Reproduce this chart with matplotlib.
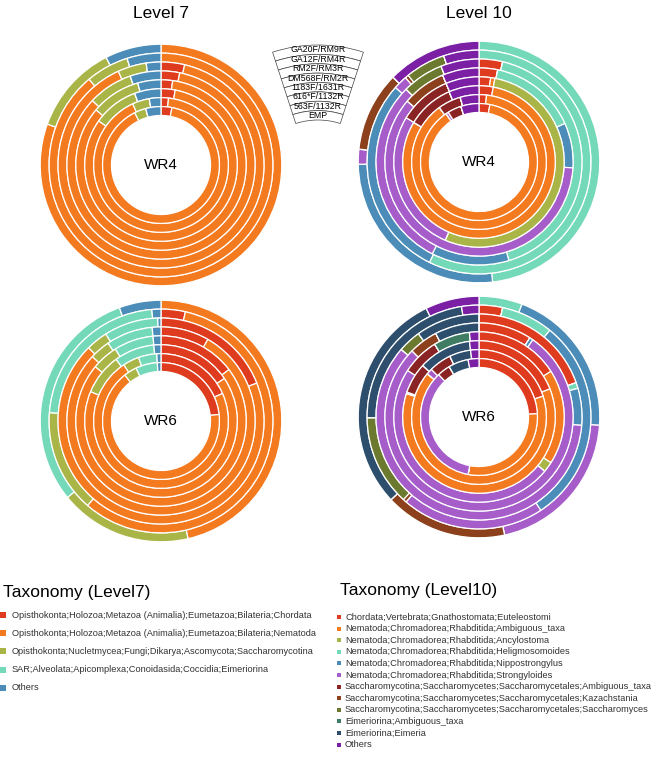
import matplotlib.pyplot as plt
from matplotlib.patches import Wedge, Rectangle

plt.rcParams['font.family'] = ['Liberation Sans', 'DejaVu Sans']

# primer pairs, outermost ring first
primers = ["GA20F/RM9R", "GA12F/RM4R", "RM2F/RM3R", "DM568F/RM2R",
           "1183F/1631R", "616*F/1132R", "563F/1132R", "EMP"]

taxa_l7 = [
    "Opisthokonta;Holozoa;Metazoa (Animalia);Eumetazoa;Bilateria;Chordata",
    "Opisthokonta;Holozoa;Metazoa (Animalia);Eumetazoa;Bilateria;Nematoda",
    "Opisthokonta;Nucletmycea;Fungi;Dikarya;Ascomycota;Saccharomycotina",
    "SAR;Alveolata;Apicomplexa;Conoidasida;Coccidia;Eimeriorina",
    "Others",
]
taxa_l10 = [
    "Chordata;Vertebrata;Gnathostomata;Euteleostomi",
    "Nematoda;Chromadorea;Rhabditida;Ambiguous_taxa",
    "Nematoda;Chromadorea;Rhabditida;Ancylostoma",
    "Nematoda;Chromadorea;Rhabditida;Heligmosomoides",
    "Nematoda;Chromadorea;Rhabditida;Nippostrongylus",
    "Nematoda;Chromadorea;Rhabditida;Strongyloides",
    "Saccharomycotina;Saccharomycetes;Saccharomycetales;Ambiguous_taxa",
    "Saccharomycotina;Saccharomycetes;Saccharomycetales;Kazachstania",
    "Saccharomycotina;Saccharomycetes;Saccharomycetales;Saccharomyces",
    "Eimeriorina;Ambiguous_taxa",
    "Eimeriorina;Eimeria",
    "Others",
]

# relative abundance per ring (rows = primers, cols = taxa)
wr4_l7 = [
    [0.000, 0.805, 0.120, 0.000, 0.075],
    [0.000, 0.889, 0.062, 0.000, 0.049],
    [0.037, 0.895, 0.045, 0.000, 0.023],
    [0.032, 0.838, 0.077, 0.000, 0.053],
    [0.022, 0.840, 0.094, 0.000, 0.044],
    [0.030, 0.818, 0.096, 0.000, 0.056],
    [0.018, 0.913, 0.041, 0.000, 0.028],
    [0.030, 0.896, 0.032, 0.000, 0.042],
]
wr6_l7 = [
    [0.000, 0.464, 0.177, 0.303, 0.056],
    [0.035, 0.579, 0.148, 0.225, 0.013],
    [0.190, 0.686, 0.034, 0.085, 0.005],
    [0.083, 0.787, 0.035, 0.080, 0.015],
    [0.147, 0.713, 0.050, 0.075, 0.015],
    [0.156, 0.657, 0.087, 0.085, 0.015],
    [0.183, 0.724, 0.039, 0.044, 0.010],
    [0.232, 0.662, 0.036, 0.060, 0.010],
]
wr4_l10 = [
    [0.000, 0.000, 0.000, 0.482, 0.265, 0.020, 0.000, 0.107, 0.000, 0.000, 0.000, 0.126],
    [0.000, 0.000, 0.000, 0.573, 0.293, 0.020, 0.000, 0.005, 0.058, 0.000, 0.000, 0.051],
    [0.037, 0.000, 0.000, 0.416, 0.122, 0.300, 0.000, 0.000, 0.065, 0.000, 0.000, 0.060],
    [0.032, 0.000, 0.000, 0.151, 0.077, 0.602, 0.000, 0.075, 0.000, 0.000, 0.000, 0.063],
    [0.022, 0.008, 0.535, 0.000, 0.000, 0.272, 0.100, 0.000, 0.000, 0.000, 0.000, 0.063],
    [0.030, 0.807, 0.000, 0.000, 0.000, 0.000, 0.099, 0.000, 0.000, 0.000, 0.000, 0.064],
    [0.018, 0.882, 0.000, 0.000, 0.000, 0.000, 0.055, 0.000, 0.000, 0.000, 0.000, 0.045],
    [0.030, 0.875, 0.000, 0.000, 0.000, 0.007, 0.038, 0.000, 0.000, 0.000, 0.000, 0.050],
]
wr6_l10 = [
    [0.000, 0.000, 0.000, 0.058, 0.203, 0.205, 0.000, 0.164, 0.000, 0.000, 0.298, 0.072],
    [0.034, 0.000, 0.000, 0.075, 0.298, 0.206, 0.000, 0.005, 0.131, 0.000, 0.226, 0.025],
    [0.196, 0.000, 0.000, 0.009, 0.058, 0.601, 0.000, 0.000, 0.036, 0.000, 0.100, 0.000],
    [0.091, 0.000, 0.000, 0.000, 0.006, 0.777, 0.000, 0.050, 0.000, 0.000, 0.076, 0.000],
    [0.160, 0.180, 0.020, 0.000, 0.000, 0.482, 0.071, 0.000, 0.000, 0.069, 0.000, 0.018],
    [0.190, 0.610, 0.000, 0.000, 0.000, 0.003, 0.065, 0.000, 0.000, 0.000, 0.112, 0.020],
    [0.200, 0.661, 0.000, 0.000, 0.000, 0.014, 0.054, 0.000, 0.000, 0.000, 0.051, 0.020],
    [0.241, 0.289, 0.000, 0.000, 0.000, 0.349, 0.036, 0.000, 0.000, 0.000, 0.055, 0.030],
]

colors_l7 = ['#de3b1f', '#f47a20', '#a9b547', '#74d9b9', '#4b8db8']
colors_l10 = ['#de3b1f', '#f47a20', '#a9b547', '#74d9b9', '#4b8db8', '#a65dc9',
              '#8a2424', '#8c401c', '#6b7a2e', '#3e7d64', '#2d4f6d', '#7b1fa5']

W, H = 659, 762
fig = plt.figure(figsize=(W / 100, H / 100), dpi=100)


def px_axes(cx, cy, r):
    # axes square of half-size r (pixels) centred at (cx, cy), y from top
    return fig.add_axes([(cx - r) / W, 1 - (cy + r) / H, 2 * r / W, 2 * r / H])


# overlay for titles and legends, pixel coordinates
ov = fig.add_axes([0, 0, 1, 1])
ov.set_xlim(0, W)
ov.set_ylim(H, 0)
ov.axis('off')

HOLE = 0.41
ring_w = (1 - HOLE) / len(primers)


def donut(cx, cy, rings, colors, label):
    ax = px_axes(cx, cy, 122)
    for k, fr in enumerate(rings):
        ax.pie(fr, radius=1 - k * ring_w, colors=colors, startangle=90,
               counterclock=False,
               wedgeprops=dict(width=ring_w, edgecolor='white', linewidth=0.9))
    ax.set_xlim(-1.01, 1.01)
    ax.set_ylim(-1.01, 1.01)
    ax.set_aspect('equal')
    ax.axis('off')
    ax.text(0, 0, label, ha='center', va='center', fontsize=11)


donut(161, 165, wr4_l7, colors_l7, "WR4")
donut(479, 162, wr4_l10, colors_l10, "WR4")
donut(161, 421, wr6_l7, colors_l7, "WR6")
donut(479, 417, wr6_l10, colors_l10, "WR6")

ov.text(161, 14, "Level 7", ha='center', va='center', fontsize=12.5)
ov.text(479, 14, "Level 10", ha='center', va='center', fontsize=12.5)

# primer key, a fan shaped like the rings
kx = px_axes(318, 192, 150)
kx.set_xlim(-150, 150)
kx.set_ylim(-150, 150)
kx.set_aspect('equal')
kx.axis('off')
r_top, r_bot = 147, 72
row_h = (r_top - r_bot) / len(primers)
for k, name in enumerate(primers):
    ro = r_top - k * row_h
    kx.add_patch(Wedge((0, 0), ro, 72, 108, width=row_h, facecolor='white',
                       edgecolor='#444444', linewidth=0.5))
    kx.text(0, ro - row_h / 2 - 0.3, name, ha='center', va='center', fontsize=6.3)

# legends
ov.text(3, 592, "Taxonomy (Level7)", ha='left', va='center', fontsize=12.5)
for i, (name, c) in enumerate(zip(taxa_l7, colors_l7)):
    y = 615 + 18.2 * i
    ov.add_patch(Rectangle((0, y - 3), 6, 6, facecolor=c, edgecolor='none'))
    ov.text(12, y, name, ha='left', va='center', fontsize=6.7, color='#333333')

ov.text(340, 590, "Taxonomy (Level10)", ha='left', va='center', fontsize=12.5)
for i, (name, c) in enumerate(zip(taxa_l10, colors_l10)):
    y = 617 + 11.6 * i
    ov.add_patch(Rectangle((337, y - 2), 4, 4, facecolor=c, edgecolor='none'))
    ov.text(345, y, name, ha='left', va='center', fontsize=6.65, color='#333333')

fig.savefig("out.png", dpi=100)
